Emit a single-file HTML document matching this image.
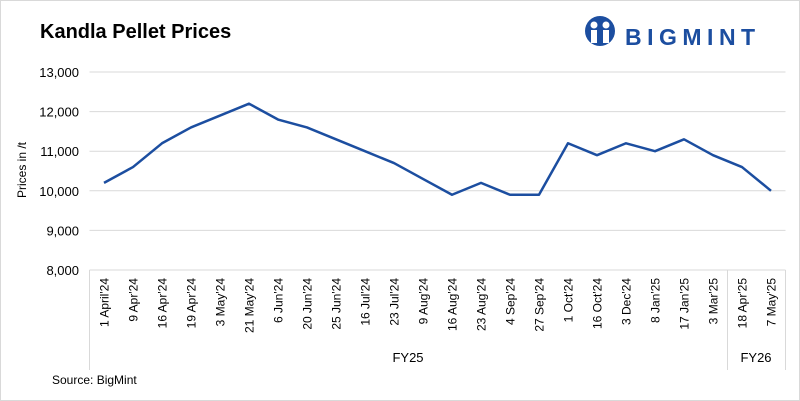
<!DOCTYPE html>
<html><head><meta charset="utf-8"><style>
body{margin:0;background:#fff;}
svg{display:block;font-family:"Liberation Sans",Arial,sans-serif;}
</style></head><body>
<svg id="c" width="800" height="401" viewBox="0 0 800 401">
<rect x="0.5" y="0.5" width="799" height="400" fill="#fff" stroke="#d9d9d9"/>
<text x="40" y="38" font-size="20" font-weight="bold" fill="#000">Kandla Pellet Prices</text>
<g>
<circle cx="600" cy="31" r="15" fill="#1c4ea0"/>
<circle cx="594" cy="25" r="3.5" fill="#fff"/><circle cx="606" cy="25" r="3.5" fill="#fff"/>
<rect x="591" y="30" width="6" height="13" fill="#fff"/><rect x="603" y="30" width="6" height="13" fill="#fff"/>
<text x="625" y="45" font-size="23" font-weight="bold" fill="#1c4ea0" letter-spacing="5.5">BIGMINT</text>
</g>
<text transform="translate(26,170) rotate(-90)" text-anchor="middle" font-size="12" fill="#000">Prices in /t</text>
<g id="grid"></g><g id="ylab"></g><g id="xlab"></g>
<line x1="89.5" y1="270" x2="89.5" y2="370" stroke="#d9d9d9"/>
<line x1="727.5" y1="270" x2="727.5" y2="370" stroke="#d9d9d9"/>
<line x1="785.5" y1="270" x2="785.5" y2="370" stroke="#d9d9d9"/>
<text x="408" y="362" text-anchor="middle" font-size="13" fill="#000">FY25</text>
<text x="756" y="362" text-anchor="middle" font-size="13" fill="#000">FY26</text>
<text x="52" y="384" font-size="12" fill="#000">Source: BigMint</text>
<path id="line" fill="none" stroke="#1c4ea0" stroke-width="2.5" stroke-linejoin="round"/>
</svg>
<script>
const categories=["1 April'24","9 Apr'24","16 Apr'24","19 Apr'24","3 May'24","21 May'24","6 Jun'24","20 Jun'24","25 Jun'24","16 Jul'24","23 Jul'24","9 Aug'24","16 Aug'24","23 Aug'24","4 Sep'24","27 Sep'24","1 Oct'24","16 Oct'24","3 Dec'24","8 Jan'25","17 Jan'25","3 Mar'25","18 Apr'25","7 May'25"];
const prices=[10200,10600,11200,11600,11900,12200,11800,11600,11300,11000,10700,10300,9900,10200,9900,9900,11200,10900,11200,11000,11300,10900,10600,10000];
const yTicks=[8000,9000,10000,11000,12000,13000];
const yTickLabels=["8,000","9,000","10,000","11,000","12,000","13,000"];
const NS="http://www.w3.org/2000/svg";
const x0=89.5,x1=785.5,yTop=72,yBot=270,yMin=8000,yMax=13000;
const bw=(x1-x0)/categories.length;
const xs=i=>x0+bw*(i+0.5);
const ys=v=>yBot-(v-yMin)/(yMax-yMin)*(yBot-yTop);
const grid=document.getElementById('grid'),ylab=document.getElementById('ylab'),xlab=document.getElementById('xlab');
yTicks.forEach((t,i)=>{
 const l=document.createElementNS(NS,'line');
 l.setAttribute('x1',x0);l.setAttribute('x2',x1);l.setAttribute('y1',ys(t));l.setAttribute('y2',ys(t));
 l.setAttribute('stroke','#d9d9d9');
 
 
 grid.appendChild(l);
 const tx=document.createElementNS(NS,'text');
 tx.setAttribute('x',79);tx.setAttribute('y',ys(t)+5);tx.setAttribute('text-anchor','end');
 tx.setAttribute('font-size','13');tx.setAttribute('fill','#000');
 tx.textContent=yTickLabels[i];
 
 
 ylab.appendChild(tx);
});
categories.forEach((c,i)=>{
 const tx=document.createElementNS(NS,'text');
 tx.setAttribute('transform','translate('+(xs(i)+4.5)+',278) rotate(-90)');
 tx.setAttribute('text-anchor','end');tx.setAttribute('font-size','12');tx.setAttribute('fill','#000');
 tx.textContent=c;
 
 
 xlab.appendChild(tx);
});
const p=document.getElementById('line');
p.setAttribute('d',prices.map((v,i)=>(i?'L':'M')+xs(i)+' '+ys(v)).join(' '));


</script>
</body></html>
